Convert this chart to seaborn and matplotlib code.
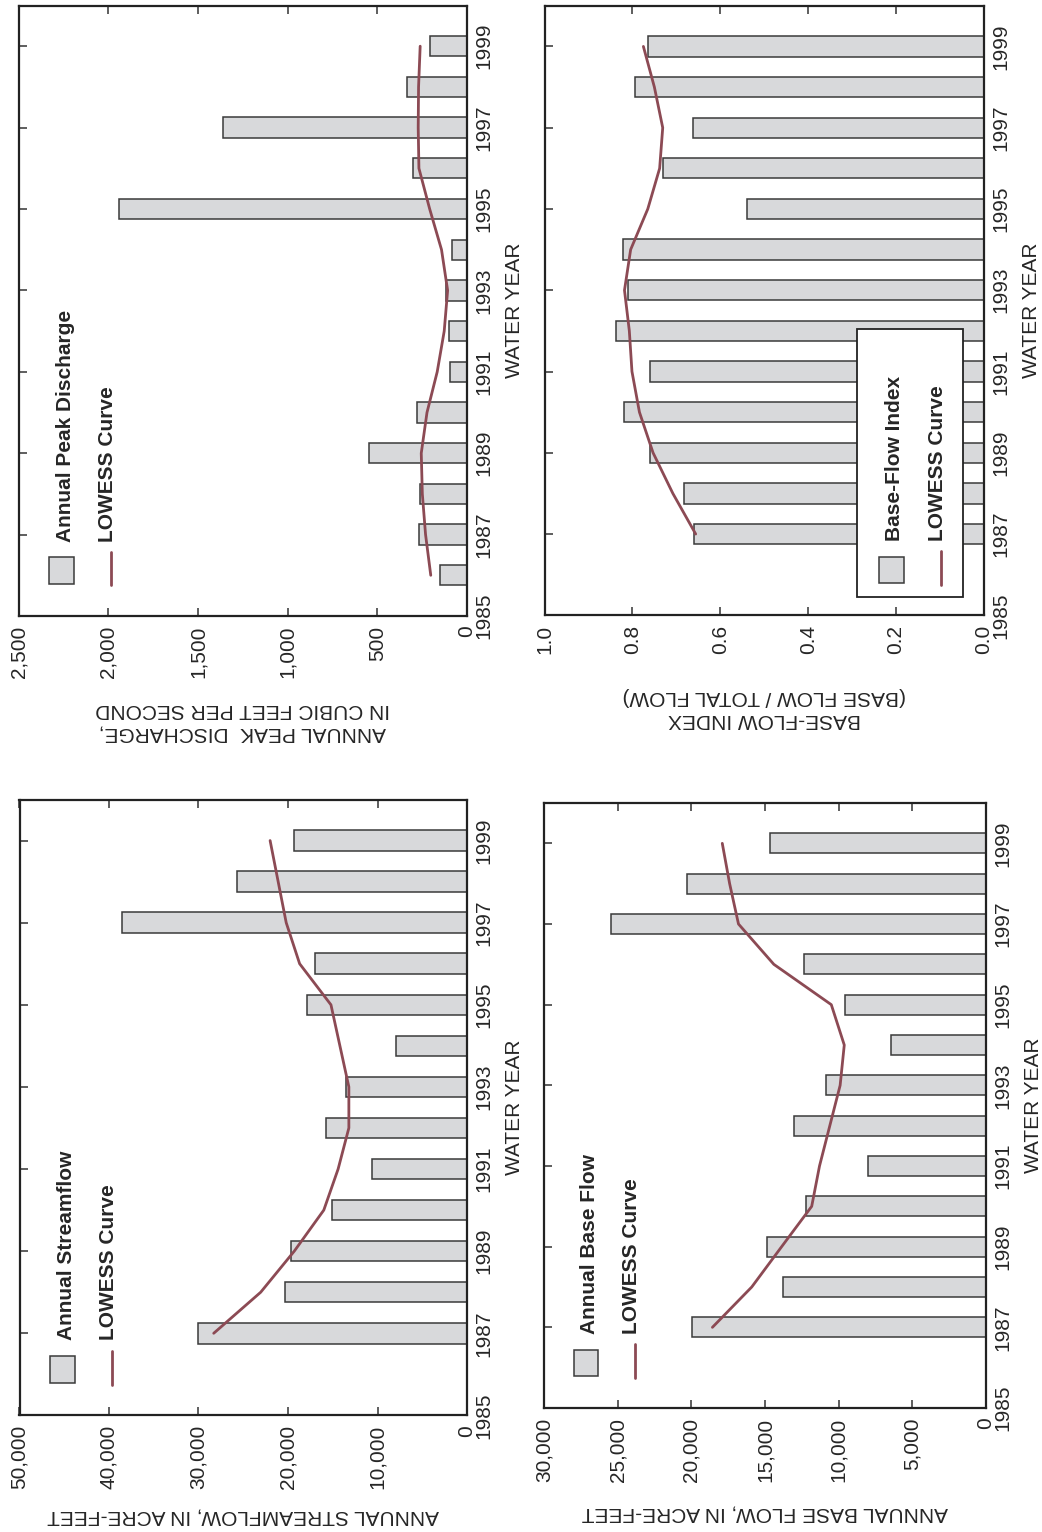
import numpy as np
import pandas as pd
import matplotlib
matplotlib.use('Agg')
import matplotlib.pyplot as plt
from matplotlib.patches import Rectangle
import seaborn as sns

sns.set_style('white')
plt.rcParams['font.family'] = ['Liberation Sans', 'DejaVu Sans']
plt.rcParams['font.size'] = 15

# Data
years_peak = [1986, 1987, 1988, 1989, 1990, 1991, 1992, 1993, 1994, 1995, 1996, 1997, 1998, 1999]
peak_discharge = [151, 270, 261, 548, 278, 94, 102, 119, 83, 1941, 300, 1361, 333, 208]
peak_lowess = [202, 231, 249, 255, 223, 166, 127, 108, 142, 208, 268, 272, 270, 261]

years = [1987, 1988, 1989, 1990, 1991, 1992, 1993, 1994, 1995, 1996, 1997, 1998, 1999]
streamflow = [30100, 20300, 19650, 15050, 10600, 15700, 13500, 7950, 17900, 16950, 38550, 25700, 19300]
streamflow_lowess = [28300, 23050, 19300, 16000, 14400, 13200, 13200, 14200, 15200, 18700, 20200, 21100, 22000]

base_flow = [19930, 13800, 14840, 12220, 7990, 13030, 10860, 6450, 9570, 12330, 25450, 20270, 14660]
base_flow_lowess = [18570, 15900, 13870, 11830, 11300, 10600, 9900, 9620, 10500, 14400, 16800, 17400, 17900]

bfi = [0.660, 0.683, 0.759, 0.819, 0.760, 0.838, 0.810, 0.822, 0.539, 0.731, 0.661, 0.793, 0.764]
bfi_lowess = [0.656, 0.708, 0.753, 0.784, 0.801, 0.807, 0.818, 0.804, 0.765, 0.738, 0.731, 0.750, 0.775]

year_ticks = list(range(1985, 2000, 2))

BAR = '#d8d9db'
EDGE = '#3a3a3a'
LINE = '#8c4a54'

W, H = 1042, 1532
fig = plt.figure(figsize=(W / 100, H / 100), dpi=100)


def box(l, t, r, b):
    return [l / W, 1 - b / H, (r - l) / W, (b - t) / H]


def draw_panel(ax, yrs, values, lowess, xmax, xticks, xticklabels, xlabel, label_y, labels,
               legend_box=None):
    df = pd.DataFrame({'year': yrs, 'value': values, 'lowess': lowess})
    sns.barplot(data=df, x='value', y='year', orient='h', native_scale=True, width=0.5,
                color=BAR, saturation=1, edgecolor=EDGE, linewidth=1.1, errorbar=None,
                ax=ax, zorder=2)
    sns.lineplot(data=df, x='lowess', y='year', sort=False, estimator=None,
                 color=LINE, linewidth=2.0, ax=ax, zorder=3)

    ax.set_xlim(xmax, 0)
    ax.set_ylim(1985, 2000)
    ax.set_xticks(xticks)
    ax.set_xticklabels(xticklabels, rotation=90)
    ax.set_yticks(year_ticks)
    ax.set_yticklabels([str(y) for y in year_ticks], rotation=90)
    ax.yaxis.tick_right()
    ax.tick_params(axis='both', direction='in', length=6, width=1.1, color='#333333',
                   top=True, bottom=True, left=True, right=True)
    ax.tick_params(axis='x', pad=7)
    ax.tick_params(axis='y', pad=5, labelleft=False, labelright=True)
    for lab in ax.get_yticklabels():
        lab.set_va('center')
    ax.yaxis.set_label_position('right')
    ax.set_ylabel('WATER YEAR', rotation=90, labelpad=9)
    ax.set_xlabel(xlabel, rotation=180, linespacing=1.3)
    ax.xaxis.set_label_coords(0.5, label_y)
    for sp in ax.spines.values():
        sp.set_linewidth(1.6)
        sp.set_color('#222222')
        sp.set_visible(True)

    # legend drawn by hand, rotated like the rest of the page
    if legend_box is not None:
        x0, y0, x1, y1 = legend_box
        ax.add_patch(Rectangle((x0, y0), x1 - x0, y1 - y0, transform=ax.transAxes,
                               facecolor='white', edgecolor='#222222', lw=1.3, zorder=5))
        px, tx, lx, t2x = 0.761, 0.796, 0.903, 0.895
        pw = 0.057
    else:
        px, tx, lx, t2x = 0.068, 0.104, 0.206, 0.199
        pw = 0.055
    ax.add_patch(Rectangle((px, 0.053), pw, 0.043, transform=ax.transAxes,
                           facecolor=BAR, edgecolor=EDGE, lw=1.1, zorder=6))
    ax.text(tx, 0.122, labels[0], transform=ax.transAxes, rotation=90, ha='center',
            va='bottom', fontweight='bold', zorder=6)
    ax.plot([lx, lx], [0.05, 0.105], transform=ax.transAxes, color=LINE, lw=2.0, zorder=6)
    ax.text(t2x, 0.122, labels[1], transform=ax.transAxes, rotation=90, ha='center',
            va='bottom', fontweight='bold', zorder=6)


ax_peak = fig.add_axes(box(18.5, 5.5, 467, 616))
draw_panel(ax_peak, years_peak, peak_discharge, peak_lowess, 2500,
           [0, 500, 1000, 1500, 2000, 2500], ['0', '500', '1,000', '1,500', '2,000', '2,500'],
           'ANNUAL PEAK  DISCHARGE,\nIN CUBIC FEET PER SECOND', -0.137,
           ['Annual Peak Discharge', 'LOWESS Curve'])

ax_bfi = fig.add_axes(box(544.5, 5.8, 984, 615.3))
draw_panel(ax_bfi, years, bfi, bfi_lowess, 1.0,
           [0, 0.2, 0.4, 0.6, 0.8, 1.0], ['0.0', '0.2', '0.4', '0.6', '0.8', '1.0'],
           'BASE-FLOW INDEX\n(BASE FLOW / TOTAL FLOW)', -0.117,
           ['Base-Flow Index', 'LOWESS Curve'], legend_box=(0.711, 0.030, 0.953, 0.470))

ax_sf = fig.add_axes(box(19.5, 799.5, 467, 1415.4))
draw_panel(ax_sf, years, streamflow, streamflow_lowess, 50000,
           [0, 10000, 20000, 30000, 40000, 50000],
           ['0', '10,000', '20,000', '30,000', '40,000', '50,000'],
           'ANNUAL STREAMFLOW, IN ACRE-FEET', -0.148,
           ['Annual Streamflow', 'LOWESS Curve'])

ax_bf = fig.add_axes(box(544, 803, 986, 1408))
draw_panel(ax_bf, years, base_flow, base_flow_lowess, 30000,
           [0, 5000, 10000, 15000, 20000, 25000, 30000],
           ['0', '5,000', '10,000', '15,000', '20,000', '25,000', '30,000'],
           'ANNUAL BASE FLOW, IN ACRE-FEET', -0.158,
           ['Annual Base Flow', 'LOWESS Curve'])

fig.savefig('out.png', dpi=100)
